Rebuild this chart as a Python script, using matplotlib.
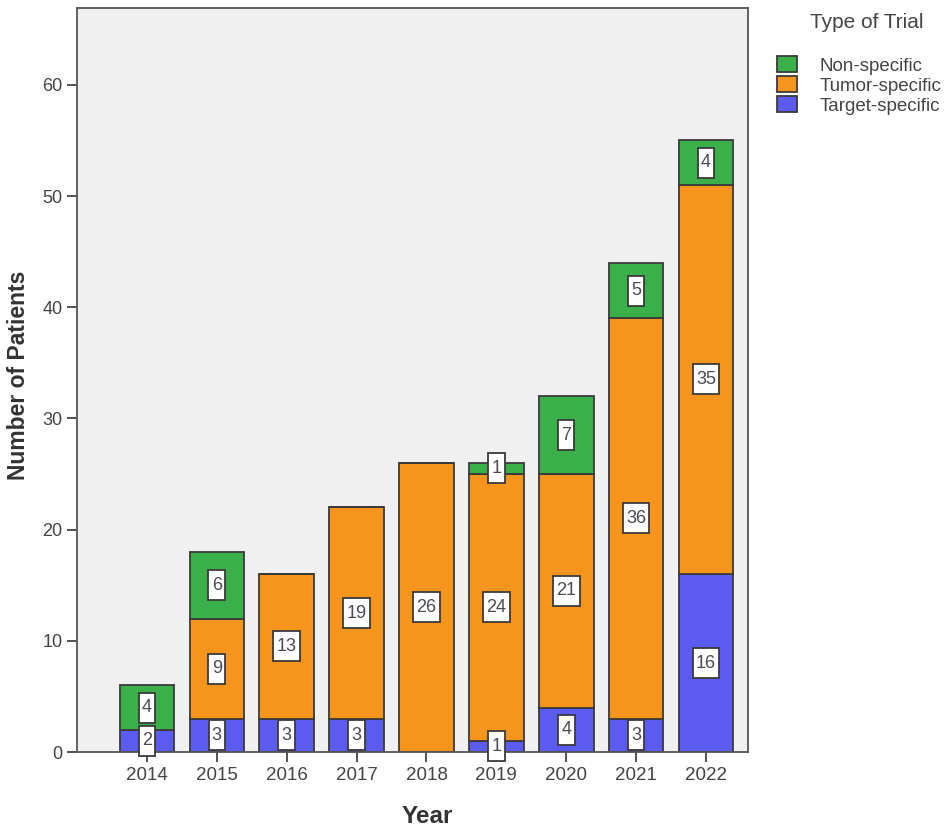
import matplotlib.pyplot as plt
from matplotlib.path import Path
import numpy as np

plt.rcParams['font.family'] = ['Liberation Sans', 'DejaVu Sans']

years = ['2014', '2015', '2016', '2017', '2018', '2019', '2020', '2021', '2022']
target = [2, 3, 3, 3, 0, 1, 4, 3, 16]
tumor = [0, 9, 13, 19, 26, 24, 21, 36, 35]
nonspec = [4, 6, 0, 0, 0, 1, 7, 5, 4]

col_target = '#5B5BF2'
col_tumor = '#F7941D'
col_non = '#3BAF4A'


def tall_box(x0, y0, width, height, mutation_size):
    # label box: narrow sides, more room top and bottom
    px = 0.18 * mutation_size
    py = 0.36 * mutation_size
    x0, y0 = x0 - px, y0 - py
    x1, y1 = x0 + width + 2 * px, y0 + height + 2 * py
    return Path([(x0, y0), (x1, y0), (x1, y1), (x0, y1), (x0, y0)], closed=True)


fig = plt.figure(figsize=(9.45, 8.34), dpi=100)
ax = fig.add_axes([0.0815, 0.0983, 0.71, 0.892])
ax.set_facecolor('#F0F0F0')

x = np.arange(len(years))
w = 0.78
bottom = np.zeros(len(years))
series = [('Target-specific', target, col_target),
          ('Tumor-specific', tumor, col_tumor),
          ('Non-specific', nonspec, col_non)]
handles = {}
for name, vals, c in series:
    vals = np.array(vals, dtype=float)
    bars = ax.bar(x, vals, w, bottom=bottom, color=c, edgecolor='#3a3a3a', linewidth=1.3)
    handles[name] = bars
    for xi, b, v in zip(x, bottom, vals):
        if v > 0:
            ax.text(xi, b + v / 2, '%d' % v, ha='center', va='center', fontsize=13,
                    color='#4a4a55',
                    bbox=dict(boxstyle=tall_box, fc='white', ec='#3a3a3a', lw=1.3))
    bottom = bottom + vals

ax.set_xlim(-1.0, 8.6)
ax.set_ylim(0, 66.9)
ax.set_xticks(x)
ax.set_xticklabels(years)
ax.set_yticks(range(0, 61, 10))
ax.tick_params(axis='x', labelsize=13.5)
ax.tick_params(axis='y', labelsize=13)
ax.tick_params(axis='both', labelcolor='#444444', color='#444444', length=7, width=1.3)
for s in ax.spines.values():
    s.set_color('#555555')
    s.set_linewidth(1.3)
ax.set_xlabel('Year', fontsize=17.5, fontweight='bold', color='#333333')
ax.xaxis.set_label_coords((427 - 77) / 671, -(805 - 752) / 744)
ax.set_ylabel('Number of Patients', fontsize=16.5, fontweight='bold', color='#333333')
ax.yaxis.set_label_coords(-(77 - 30) / 671, (752 - 375) / 744)

order = ['Non-specific', 'Tumor-specific', 'Target-specific']
leg = fig.legend([handles[n] for n in order], order,
                 loc='upper left', bbox_to_anchor=(777 / 945, 1 - 56 / 834), frameon=False,
                 fontsize=13.5, handlelength=1.05, handleheight=0.95,
                 handletextpad=1.2, labelspacing=0.08, borderpad=0, borderaxespad=0)
for t in leg.get_texts():
    t.set_color('#444444')
fig.text(810 / 945, 1 - 22 / 834, 'Type of Trial', fontsize=15, color='#444444',
         ha='left', va='center')

fig.savefig('out.png', dpi=100)
